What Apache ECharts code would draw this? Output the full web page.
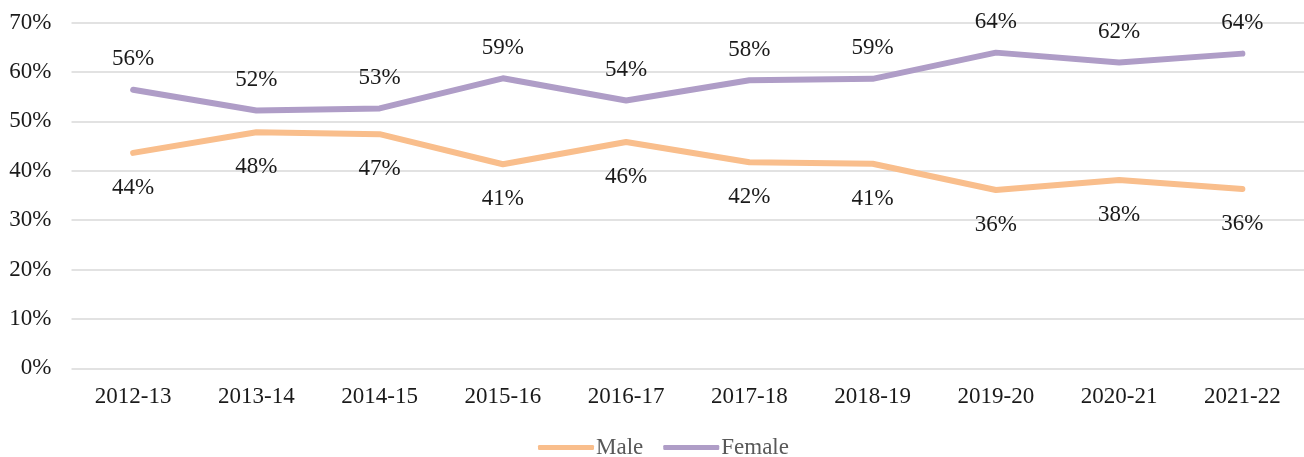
<!DOCTYPE html>
<html>
<head>
<meta charset="utf-8">
<script src="https://cdn.jsdelivr.net/npm/echarts@6/dist/echarts.min.js"></script>
<style>html,body{margin:0;padding:0;background:#fff;}#chart{width:1304px;height:457px;}</style>
</head>
<body>
<div id="chart"></div>
<script>
const categories = ['2012-13','2013-14','2014-15','2015-16','2016-17','2017-18','2018-19','2019-20','2020-21','2021-22'];
const maleValues = [43.6, 47.8, 47.4, 41.3, 45.8, 41.7, 41.4, 36.1, 38.1, 36.3];
const femaleValues = [56.4, 52.2, 52.6, 58.7, 54.2, 58.3, 58.6, 63.9, 61.9, 63.7];
const yTicks = { min: 0, max: 70, interval: 10 };

const FONT = '"Liberation Serif", "Times New Roman", serif';
const chart = echarts.init(document.getElementById('chart'), null, { renderer: 'canvas' });
const labelStyle = {
  show: true,
  fontFamily: FONT,
  fontSize: 23,
  color: '#1a1a1a',
  formatter: p => Math.round(p.value) + '%'
};
chart.setOption({
  animation: false,
  backgroundColor: '#fff',
  grid: { left: 71.5, top: 22.5, width: 1236, bottom: 88.7, containLabel: false },
  legend: {
    left: 533, top: 431,
    icon: 'roundRect', itemWidth: 56, itemHeight: 5, itemGap: 20,
    textStyle: { fontFamily: FONT, fontSize: 23, color: '#595959', padding: [0, 0, 0, -3] },
    data: [
      { name: 'Male', itemStyle: { color: '#F9BE8C', opacity: 1 } },
      { name: 'Female', itemStyle: { color: '#AF9DC7', opacity: 1 } }
    ]
  },
  xAxis: {
    type: 'category', data: categories, boundaryGap: true,
    axisLine: { show: false }, axisTick: { show: false },
    axisLabel: { fontFamily: FONT, fontSize: 23, color: '#1a1a1a', margin: 17 }
  },
  yAxis: {
    type: 'value', min: yTicks.min, max: yTicks.max, interval: yTicks.interval,
    axisLine: { show: false }, axisTick: { show: false },
    axisLabel: { fontFamily: FONT, fontSize: 23, color: '#1a1a1a', margin: 20, formatter: '{value}%' },
    splitLine: { lineStyle: { color: '#d9d9d9', width: 1.5 } }
  },
  series: [
    {
      name: 'Male', type: 'line', data: maleValues,
      symbol: 'circle', symbolSize: 0.5, showSymbol: true, itemStyle: { color: '#F9BE8C' },
      color: '#F9BE8C',
      lineStyle: { color: '#F9BE8C', width: 6, cap: 'round', join: 'round' },
      label: Object.assign({ position: 'bottom', distance: 23 }, labelStyle),
      labelLayout: { hideOverlap: false }
    },
    {
      name: 'Female', type: 'line', data: femaleValues,
      symbol: 'circle', symbolSize: 0.5, showSymbol: true, itemStyle: { color: '#AF9DC7' },
      color: '#AF9DC7',
      lineStyle: { color: '#AF9DC7', width: 6, cap: 'round', join: 'round' },
      label: Object.assign({ position: 'top', distance: 19 }, labelStyle),
      labelLayout: { hideOverlap: false }
    }
  ]
});
</script>
</body>
</html>
